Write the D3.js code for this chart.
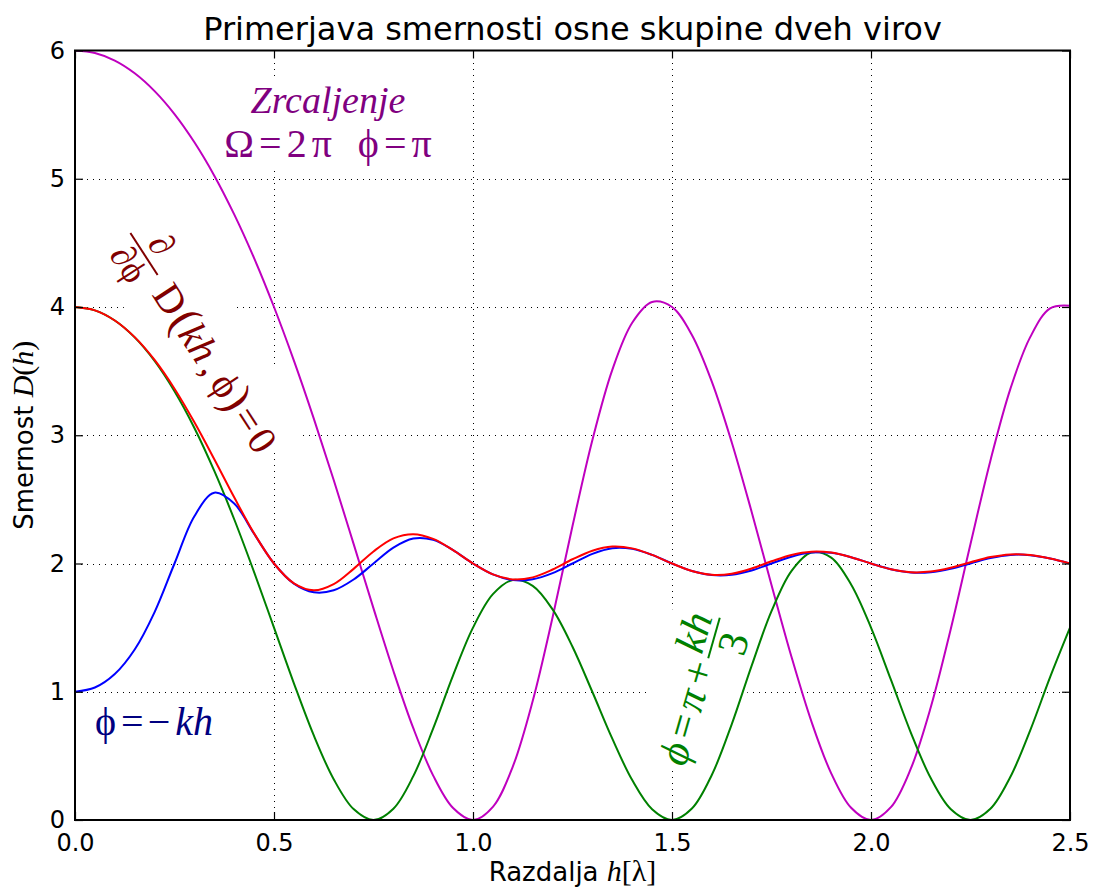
<!DOCTYPE html>
<html>
<head>
<meta charset="utf-8">
<script src="https://cdn.jsdelivr.net/npm/d3@7"></script>
<style>
  body { margin: 0; background: #fff; }
</style>
</head>
<body>
<div id="chart"></div>
<script>
// distance h in wavelengths
const hValues = [0.00, 0.05, 0.10, 0.15, 0.20, 0.25, 0.30, 0.35, 0.40, 0.45,
                 0.50, 0.55, 0.60, 0.65, 0.70, 0.75, 0.80, 0.85, 0.90, 0.95,
                 1.00, 1.05, 1.10, 1.15, 1.20, 1.25, 1.30, 1.35, 1.40, 1.45,
                 1.50, 1.55, 1.60, 1.65, 1.70, 1.75, 1.80, 1.85, 1.90, 1.95,
                 2.00, 2.05, 2.10, 2.15, 2.20, 2.25, 2.30, 2.35, 2.40, 2.45, 2.50];

// mirror source (magenta)
const mirrorD = [6.000, 5.980, 5.921, 5.822, 5.683, 5.504, 5.284, 5.024, 4.722, 4.381,
                 4.000, 3.582, 3.130, 2.651, 2.153, 1.650, 1.162, 0.716, 0.346, 0.093,
                 0.000, 0.103, 0.417, 0.928, 1.581, 2.292, 2.963, 3.510, 3.877, 4.039,
                 4.000, 3.782, 3.418, 2.946, 2.404, 1.833, 1.275, 0.771, 0.364, 0.095,
                 0.000, 0.100, 0.400, 0.877, 1.484, 2.152, 2.802, 3.360, 3.765, 3.990, 4.010];

// phi = pi + kh/3 (green)
const thirdD = [4.000, 3.974, 3.895, 3.763, 3.579, 3.343, 3.057, 2.722, 2.345, 1.933,
                1.500, 1.066, 0.659, 0.318, 0.085, 0.000, 0.088, 0.342, 0.714, 1.128,
                1.500, 1.761, 1.872, 1.826, 1.642, 1.351, 0.998, 0.634, 0.311, 0.084,
                0.000, 0.089, 0.351, 0.746, 1.202, 1.628, 1.941, 2.086, 2.046, 1.836,
                1.500, 1.094, 0.682, 0.327, 0.086, 0.000, 0.087, 0.335, 0.699, 1.114, 1.500];

// phi = -kh (blue)
const endfireD = [1.000, 1.033, 1.138, 1.329, 1.621, 2.000, 2.369, 2.552, 2.467, 2.232,
                  2.000, 1.843, 1.776, 1.791, 1.875, 2.000, 2.124, 2.195, 2.184, 2.104,
                  2.000, 1.915, 1.871, 1.877, 1.925, 2.000, 2.075, 2.119, 2.114, 2.067,
                  2.000, 1.941, 1.910, 1.912, 1.946, 2.000, 2.053, 2.085, 2.083, 2.049,
                  2.000, 1.955, 1.930, 1.932, 1.958, 2.000, 2.042, 2.067, 2.065, 2.039, 2.000];

// optimal phase, dD/dphi = 0 (red)
const optimalD = [4.000, 3.974, 3.895, 3.765, 3.587, 3.363, 3.101, 2.813, 2.516, 2.235,
                  2.000, 1.845, 1.791, 1.839, 1.958, 2.094, 2.196, 2.229, 2.192, 2.104,
                  2.000, 1.915, 1.876, 1.892, 1.953, 2.033, 2.100, 2.132, 2.118, 2.067,
                  2.000, 1.942, 1.912, 1.920, 1.961, 2.017, 2.067, 2.092, 2.085, 2.049,
                  2.000, 1.955, 1.932, 1.937, 1.967, 2.010, 2.050, 2.071, 2.066, 2.039, 2.000];

const xTicks = [0, 0.5, 1.0, 1.5, 2.0, 2.5];
const yTicks = [0, 1, 2, 3, 4, 5, 6];

const W = 1093, H = 891;
const margin = {top: 50.5, right: 23, bottom: 71, left: 75};
const serif = "'Liberation Serif', 'Times New Roman', serif";
const PHI = "\u03D5";

let svg = d3.select("#chart")
    .append("svg")
        .attr("width", W)
        .attr("height", H)
        .style("font-family", "'DejaVu Sans', sans-serif");

let x = d3.scaleLinear()
    .domain([0, 2.5])
    .range([margin.left, W - margin.right]);

let y = d3.scaleLinear()
    .domain([0, 6])
    .range([H - margin.bottom, margin.top]);

// layers
let gridLayer = svg.append("g");
let bgLayer = svg.append("g");
let curveLayer = svg.append("g");
let axisLayer = svg.append("g");
let labelLayer = svg.append("g");

// dotted grid
let crisp = v => Math.round(v) + 0.5;
gridLayer.selectAll(".gx")
    .data(xTicks.slice(1, -1))
    .join("line")
        .attr("x1", d => crisp(x(d))).attr("x2", d => crisp(x(d)))
        .attr("y1", y(0)).attr("y2", y(6));
gridLayer.selectAll(".gy")
    .data(yTicks.slice(1, -1))
    .join("line")
        .attr("y1", d => crisp(y(d))).attr("y2", d => crisp(y(d)))
        .attr("x1", x(0)).attr("x2", x(2.5));
gridLayer.selectAll("line")
    .attr("stroke", "#000")
    .attr("stroke-width", 1)
    .attr("stroke-dasharray", "1,5");

// curves
svg.append("clipPath").attr("id", "plot-clip")
    .append("rect")
        .attr("x", x(0)).attr("y", y(6))
        .attr("width", x(2.5) - x(0)).attr("height", y(0) - y(6));

let series = [
    {values: mirrorD, color: "#bf00bf"},
    {values: thirdD, color: "#008000"},
    {values: endfireD, color: "#0000ff"},
    {values: optimalD, color: "#ff0000"},
];

let line = d3.line()
    .curve(d3.curveCatmullRom)
    .x((d, i) => x(hValues[i]))
    .y(d => y(d));

curveLayer.attr("clip-path", "url(#plot-clip)")
    .selectAll("path")
    .data(series)
    .join("path")
        .attr("fill", "none")
        .attr("stroke", d => d.color)
        .attr("stroke-width", 2)
        .attr("d", d => line(d.values));

// axes, ticks pointing inward on all four sides
let tickLen = 8;
let styleAxis = g => {
    g.select(".domain").remove();
    g.selectAll(".tick line").attr("stroke", "#000").attr("stroke-width", 1.2);
    g.selectAll(".tick text").attr("fill", "#000").style("font-size", "24px")
        .style("font-family", "'DejaVu Sans', sans-serif");
};

axisLayer.append("g")
    .attr("transform", `translate(0,${y(0)})`)
    .call(d3.axisBottom(x).tickValues(xTicks).tickFormat(d3.format(".1f"))
        .tickSizeInner(-tickLen).tickSizeOuter(0).tickPadding(14))
    .call(styleAxis);

axisLayer.append("g")
    .attr("transform", `translate(0,${y(6)})`)
    .call(d3.axisTop(x).tickValues(xTicks).tickFormat("")
        .tickSizeInner(-tickLen).tickSizeOuter(0))
    .call(styleAxis);

axisLayer.append("g")
    .attr("transform", `translate(${x(0)},0)`)
    .call(d3.axisLeft(y).tickValues(yTicks).tickFormat(d3.format("d"))
        .tickSizeInner(-tickLen).tickSizeOuter(0).tickPadding(10))
    .call(styleAxis);

axisLayer.append("g")
    .attr("transform", `translate(${x(2.5)},0)`)
    .call(d3.axisRight(y).tickValues(yTicks).tickFormat("")
        .tickSizeInner(-tickLen).tickSizeOuter(0))
    .call(styleAxis);

axisLayer.append("rect")
    .attr("x", x(0)).attr("y", y(6))
    .attr("width", x(2.5) - x(0)).attr("height", y(0) - y(6))
    .attr("fill", "none")
    .attr("stroke", "#000")
    .attr("stroke-width", 2);

// title and axis labels
svg.append("text")
    .attr("x", (x(0) + x(2.5)) / 2)
    .attr("y", 40)
    .attr("text-anchor", "middle")
    .style("font-size", "32px")
    .text("Primerjava smernosti osne skupine dveh virov");

let xl = svg.append("text")
    .attr("x", (x(0) + x(2.5)) / 2)
    .attr("y", 881)
    .attr("text-anchor", "middle")
    .style("font-size", "26px");
xl.append("tspan").text("Razdalja ");
xl.append("tspan").style("font-family", serif).style("font-style", "italic")
    .style("font-size", "30px").text("h");
xl.append("tspan").style("font-family", serif).style("font-size", "30px").text("[λ]");

let yl = svg.append("text")
    .attr("transform", `translate(33,${(y(0) + y(6)) / 2}) rotate(-90)`)
    .attr("text-anchor", "middle")
    .style("font-size", "26px");
yl.append("tspan").text("Smernost ");
yl.append("tspan").style("font-family", serif).style("font-style", "italic")
    .style("font-size", "30px").text("D");
yl.append("tspan").style("font-family", serif).style("font-size", "30px").text("(");
yl.append("tspan").style("font-family", serif).style("font-style", "italic")
    .style("font-size", "30px").text("h");
yl.append("tspan").style("font-family", serif).style("font-size", "30px").text(")");

// annotations with white boxes behind them
function addBox(g, padX, padY) {
    let b = g.node().getBBox();
    bgLayer.append("rect")
        .attr("transform", g.attr("transform"))
        .attr("x", b.x - padX).attr("y", b.y - padY)
        .attr("width", b.width + 2 * padX).attr("height", b.height + 2 * padY)
        .attr("fill", "#fff");
}

// mirror label
let mirrorLabel = labelLayer.append("g")
    .attr("transform", "translate(328,0)")
    .attr("fill", "#800080")
    .style("font-family", serif)
    .style("font-size", "38px")
    .attr("text-anchor", "middle");
mirrorLabel.append("text").attr("y", 113).style("font-style", "italic").text("Zrcaljenje");
let mt = mirrorLabel.append("text").attr("y", 157).style("font-size", "40px");
mt.append("tspan").text("Ω");
mt.append("tspan").attr("dx", 5).text("=");
mt.append("tspan").attr("dx", 5).text("2");
mt.append("tspan").attr("dx", 5).text("π");
mt.append("tspan").attr("dx", 26).text(PHI);
mt.append("tspan").attr("dx", 5).text("=");
mt.append("tspan").attr("dx", 5).text("π");
addBox(mirrorLabel, 3, 3);

// endfire label
let endLabel = labelLayer.append("g")
    .attr("transform", "translate(95,735)")
    .attr("fill", "#000080")
    .style("font-family", serif)
    .style("font-size", "40px");
let et = endLabel.append("text");
et.append("tspan").text(PHI);
et.append("tspan").attr("dx", 5).text("=");
et.append("tspan").attr("dx", 4).text("−");
et.append("tspan").attr("dx", 5).style("font-style", "italic").text("kh");
addBox(endLabel, 3, 3);

// optimum label (rotated)
let optLabel = labelLayer.append("g")
    .attr("transform", "translate(144,254) rotate(57)")
    .attr("fill", "#800000")
    .style("font-family", serif);
optLabel.append("text").attr("x", 2).attr("y", -8)
    .attr("text-anchor", "middle").style("font-size", "36px").text("∂");
optLabel.append("line")
    .attr("x1", -25).attr("x2", 25).attr("y1", 0).attr("y2", 0)
    .attr("stroke", "#800000").attr("stroke-width", 2);
optLabel.append("text").attr("x", 0).attr("y", 30)
    .attr("text-anchor", "middle").style("font-size", "36px").text("∂" + PHI);
let ot = optLabel.append("text").attr("x", 38).attr("y", 16).style("font-size", "40px");
ot.append("tspan").text("D");
ot.append("tspan").attr("dx", 3).style("font-size", "46px").text("(");
ot.append("tspan").style("font-style", "italic").text("kh");
ot.append("tspan").attr("dx", 4).text(",");
ot.append("tspan").attr("dx", 7).text(PHI);
ot.append("tspan").style("font-size", "46px").text(")");
ot.append("tspan").attr("dx", 4).text("=");
ot.append("tspan").attr("dx", 4).text("0");
addBox(optLabel, 6, 8);

// phase label (rotated)
let thirdLabel = labelLayer.append("g")
    .attr("transform", "translate(714,638) rotate(-74)")
    .attr("fill", "#008000")
    .style("font-family", serif)
    .style("font-size", "42px");
let tt = thirdLabel.append("text").attr("x", -24).attr("y", 8)
    .attr("text-anchor", "end").style("font-style", "italic");
tt.append("tspan").text(PHI);
tt.append("tspan").attr("dx", 3).text("=");
tt.append("tspan").attr("dx", 3).text("π");
tt.append("tspan").attr("dx", 3).text("+");
thirdLabel.append("text").attr("x", 0).attr("y", -7)
    .attr("text-anchor", "middle").style("font-style", "italic").text("kh");
thirdLabel.append("line")
    .attr("x1", -21).attr("x2", 21).attr("y1", 0).attr("y2", 0)
    .attr("stroke", "#008000").attr("stroke-width", 2);
thirdLabel.append("text").attr("x", 0).attr("y", 34)
    .attr("text-anchor", "middle").text("3");
addBox(thirdLabel, 4, 4);
</script>
</body>
</html>
